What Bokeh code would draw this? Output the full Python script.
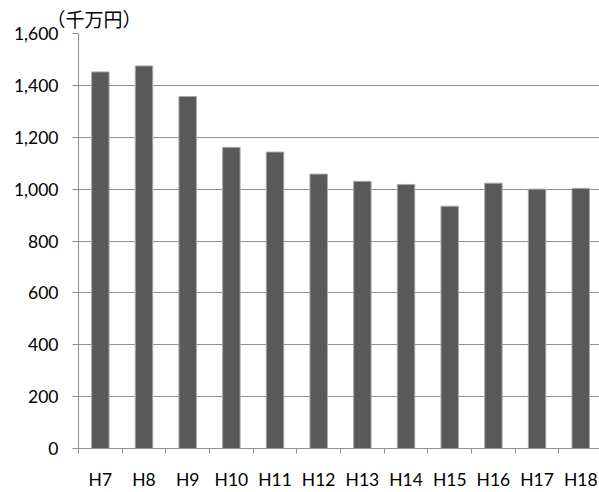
from bokeh.plotting import figure
from bokeh.models import Range1d, FixedTicker, NumeralTickFormatter
from bokeh.embed import file_html
from bokeh.resources import INLINE

# Annual amounts (unit: 10 million yen)
years = ["H7", "H8", "H9", "H10", "H11", "H12", "H13", "H14", "H15", "H16", "H17", "H18"]
amounts = [1452, 1475, 1357, 1161, 1143, 1058, 1030, 1018, 934, 1023, 1000, 1003]
y_ticks = [0, 200, 400, 600, 800, 1000, 1200, 1400, 1600]
unit_text = "（千万円）"

centers = [i + 0.5 for i in range(len(years))]
boundaries = list(range(len(years)))

GRID = "#8f8f8f"
FONT = "Lato"

p = figure(width=599, height=492, output_backend="svg", toolbar_location=None,
           x_range=Range1d(0, 11.93), y_range=Range1d(0, 1600),
           min_border_left=78, min_border_right=0, min_border_top=33, min_border_bottom=40)
p.outline_line_color = None
p.background_fill_color = "white"
p.border_fill_color = "white"

# unit caption at the top left
p.title.text = unit_text
p.title.align = "left"
p.title.offset = -32
p.title.standoff = 4
p.title.text_font = "Noto Sans CJK JP"
p.title.text_font_size = "19px"
p.title.text_font_style = "normal"
p.title.text_color = "#000000"

p.vbar(x=centers, top=amounts, width=0.4, fill_color="#595959",
       line_color="#a8a8a8", line_width=1)

# x axis: labels at category centres, tick marks on category boundaries
xa = p.xaxis[0]
xa.ticker = FixedTicker(ticks=centers, minor_ticks=boundaries)
xa.major_label_overrides = {c: y for c, y in zip(centers, years)}
xa.major_tick_line_color = None
xa.major_tick_out = 0
xa.major_tick_in = 0
xa.minor_tick_line_color = GRID
xa.minor_tick_out = 5
xa.minor_tick_in = 0
xa.axis_line_color = GRID
xa.major_label_standoff = 15
xa.major_label_text_font = FONT
xa.major_label_text_font_size = "17.5px"
xa.major_label_text_color = "#000000"

ya = p.yaxis[0]
ya.ticker = FixedTicker(ticks=y_ticks)
ya.formatter = NumeralTickFormatter(format="0,0")
ya.minor_tick_line_color = None
ya.major_tick_line_color = GRID
ya.major_tick_out = 6
ya.major_tick_in = 0
ya.axis_line_color = GRID
ya.major_label_standoff = 14
ya.major_label_text_font = FONT
ya.major_label_text_font_size = "17.5px"
ya.major_label_text_color = "#000000"

p.xgrid.grid_line_color = None
p.ygrid.ticker = FixedTicker(ticks=y_ticks)
p.ygrid.grid_line_color = GRID
p.ygrid.grid_line_width = 1

open("out.html", "w").write(file_html(p, INLINE))
